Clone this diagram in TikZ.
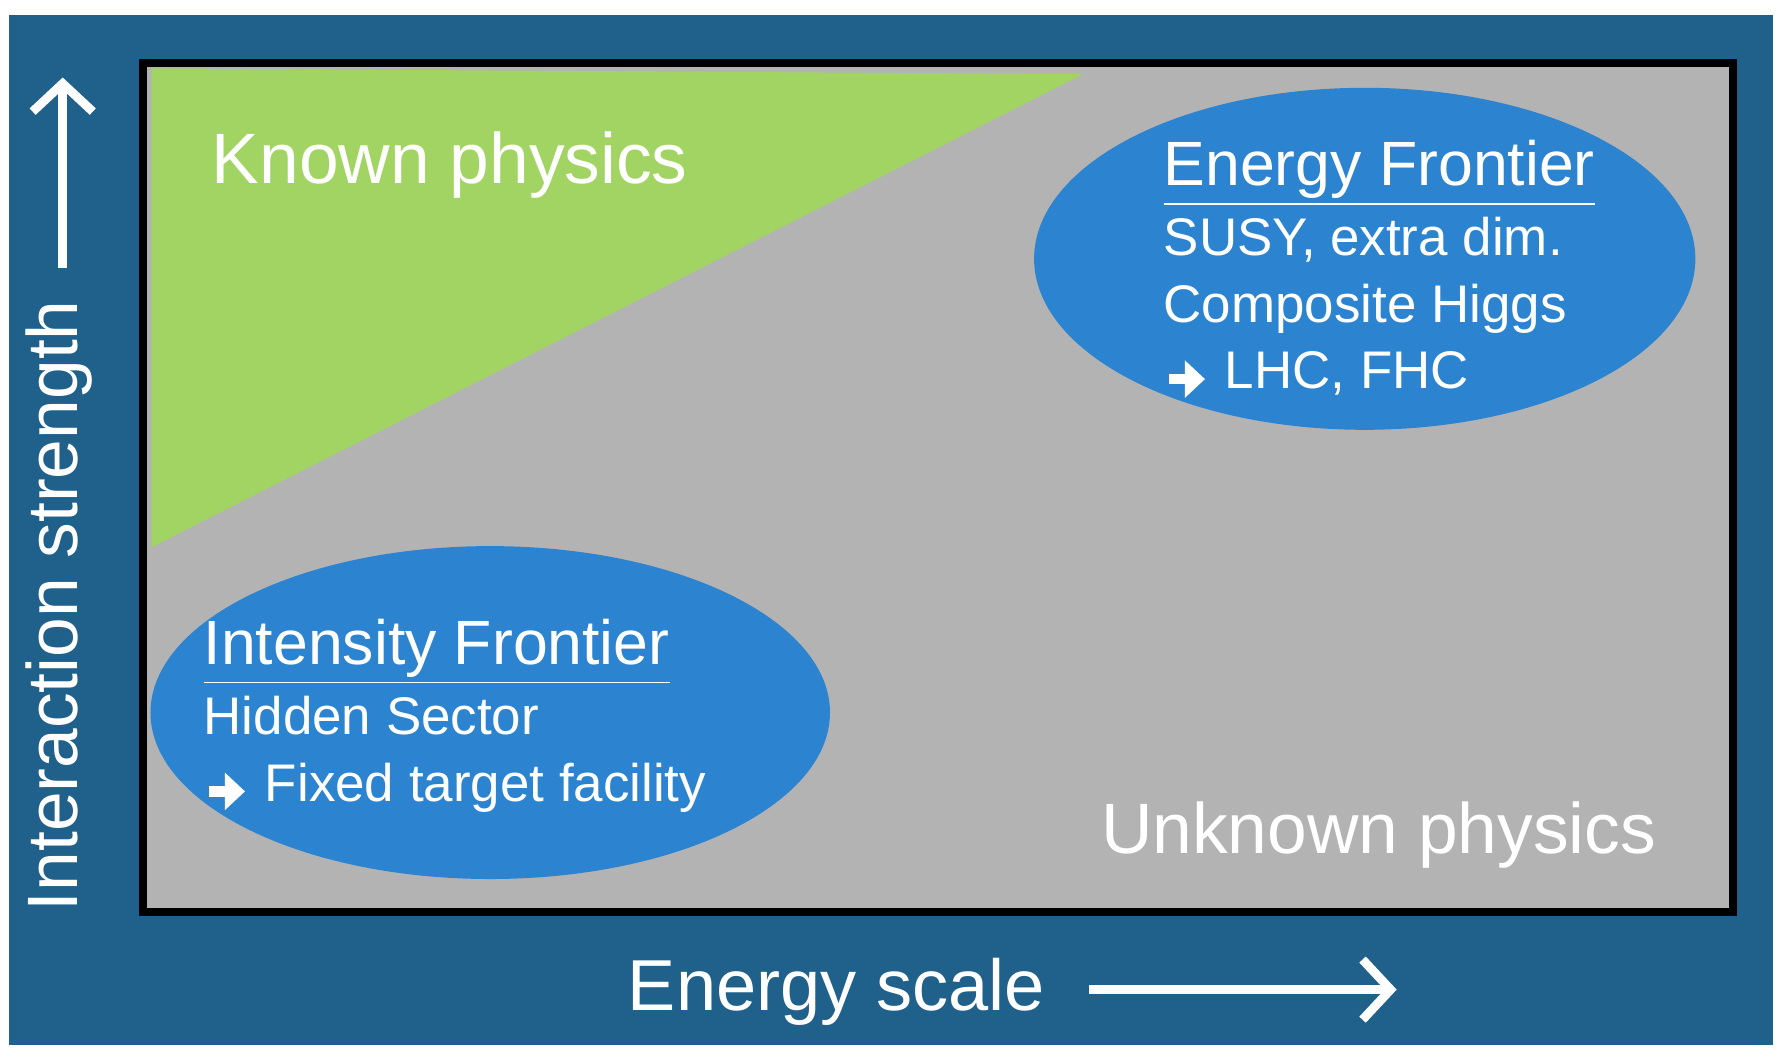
\documentclass[tikz,border=0pt]{standalone}
\usepackage{fontspec}
\setmainfont{Liberation Sans}
\definecolor{frame}{HTML}{20618C}
\definecolor{panel}{HTML}{B3B3B3}
\definecolor{known}{HTML}{A1D463}
\definecolor{blob}{HTML}{2C84D0}
\usetikzlibrary{arrows.meta}
\tikzset{lbl/.style={text=white,inner sep=0pt},
 axis/.style={white,line width=2.2pt,-{Straight Barb[length=7pt,width=15pt,line width=2.2pt]}}}
\newcommand{\myul}[1]{\underline{#1}}
\newcommand{\myar}{\tikz[baseline=-0.35ex]\draw[white,line width=2.6pt,-{Triangle[length=5pt,width=9pt]}] (0,0) -- (9pt,0);}
\begin{document}
\begin{tikzpicture}[x=0.01cm,y=-0.01cm]
\useasboundingbox (0,0) rectangle (1563,931);
\fill[white] (0,0) rectangle (1563,931);
\fill[frame] (8,13) rectangle (1555,917);
\draw[fill=panel,line width=2pt] (125,55) rectangle (1520,800);
\fill[known] (133,60) -- (950,65) -- (133,480) -- cycle;
\fill[blob] (1197,227) ellipse [x radius=290,y radius=150];
\fill[blob] (430,625) ellipse [x radius=298,y radius=146];
\node[lbl,anchor=west,font=\fontsize{17.8}{20}\selectfont] (kp) at (185,145) {Known physics};
\node[lbl,anchor=west,font=\fontsize{17.8}{20}\selectfont] (up) at (965,732) {Unknown physics};
\node[lbl,anchor=north west,align=left,font=\fontsize{13.2}{16.6}\selectfont] (eft) at (1020,122)
 {{\fontsize{15.6}{16}\selectfont\myul{Energy Frontier}}\\[1pt] SUSY, extra dim.\\ Composite Higgs\\ \myar\ LHC, FHC};
\node[lbl,anchor=north west,align=left,font=\fontsize{13.2}{16.6}\selectfont] (ift) at (178,542)
 {{\fontsize{15.6}{16}\selectfont\myul{Intensity Frontier}}\\[1pt] Hidden Sector\\ \myar\ Fixed target facility};
\node[lbl,anchor=west,font=\fontsize{18}{20}\selectfont] (es) at (550,870) {Energy scale};
\coordinate (ea) at (955,868); \coordinate (eb) at (1225,868);
\draw[axis] (ea) -- (eb);
\node[lbl,anchor=west,rotate=90,font=\fontsize{17.8}{20}\selectfont] (is) at (52,800) {Interaction strength};
\coordinate (ia) at (55,235); \coordinate (ib) at (55,68);
\draw[axis] (ia) -- (ib);
\end{tikzpicture}
\end{document}
